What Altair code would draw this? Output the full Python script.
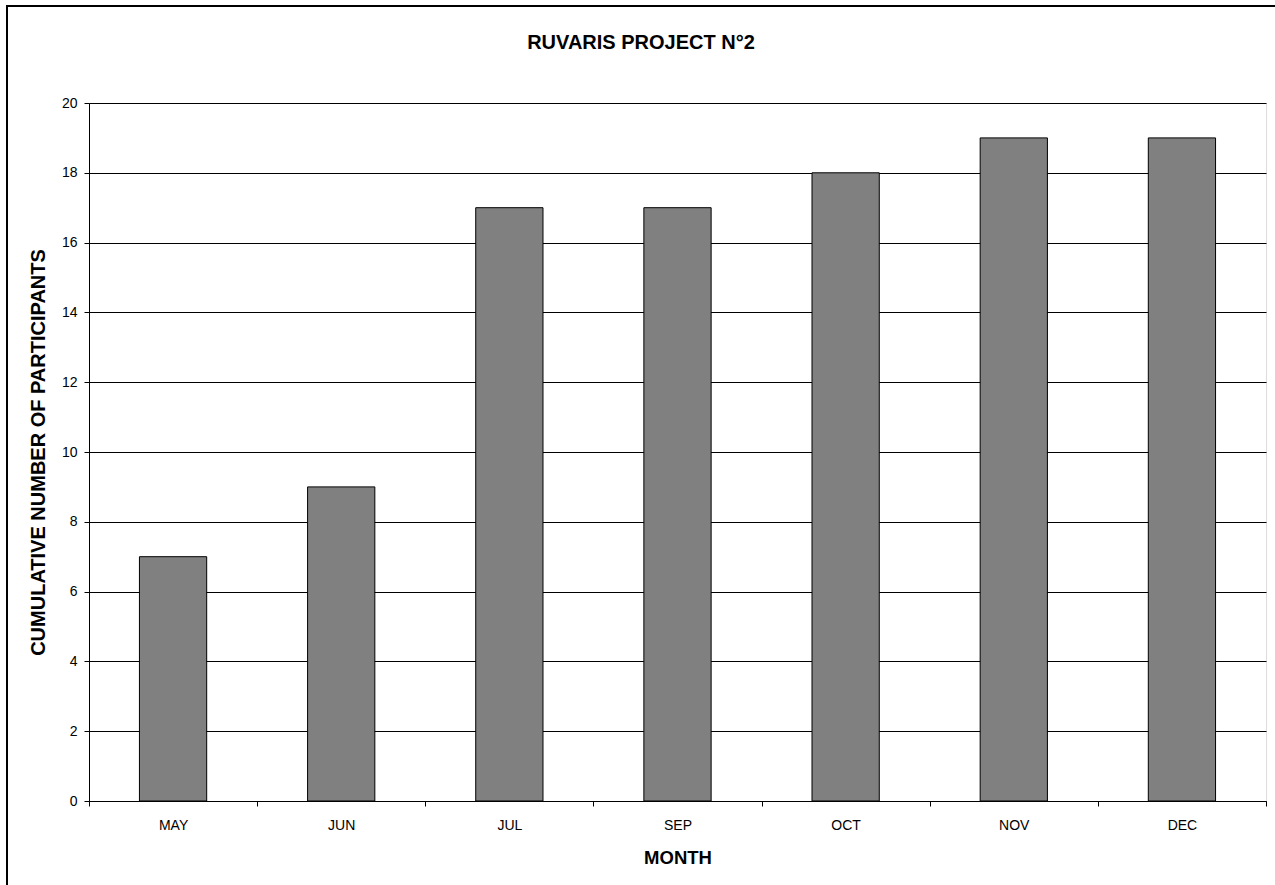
import altair as alt
import pandas as pd

months = ["MAY", "JUN", "JUL", "SEP", "OCT", "NOV", "DEC"]
participants = [7, 9, 17, 17, 18, 19, 19]
chart_title = "RUVARIS PROJECT N°2"

df = pd.DataFrame({"month": months, "value": participants})
FONT = "Liberation Sans"

bars = alt.Chart(df).mark_bar(
    color="#808080", stroke="black", strokeWidth=1,
    width=alt.RelativeBandSize(0.4)
).encode(
    x=alt.X("month:N", sort=months,
            scale=alt.Scale(paddingInner=0, paddingOuter=0),
            axis=alt.Axis(title="MONTH", labelAngle=0, tickBand="extent",
                          grid=False, domainColor="black", tickColor="black",
                          tickSize=5, labelPadding=12, labelFontSize=14,
                          labelColor="black", titleFontSize=18.5, titleFontWeight="bold",
                          titlePadding=16, titleColor="black",
                          labelFont=FONT, titleFont=FONT)),
    y=alt.Y("value:Q", scale=alt.Scale(domain=[0, 20], nice=False),
            axis=alt.Axis(title="CUMULATIVE NUMBER OF PARTICIPANTS",
                          values=list(range(0, 21, 2)), grid=True,
                          gridColor="black", gridOpacity=1, gridWidth=1,
                          domainColor="black", tickColor="black", tickSize=5,
                          labelPadding=7, labelFontSize=14, labelColor="black",
                          titleFontSize=20, titleFontWeight="bold",
                          titlePadding=13, titleColor="black",
                          labelFont=FONT, titleFont=FONT)),
)

one = pd.DataFrame({"t": [chart_title]})

frame = alt.Chart(one).mark_rect(
    fill=None, stroke="black", strokeWidth=2
).encode(
    x=alt.value(-82), x2=alt.value(1200),
    y=alt.value(-97), y2=alt.value(800),
)

title = alt.Chart(one).mark_text(
    font=FONT, fontSize=20, fontWeight="bold", color="black",
    align="center", baseline="middle"
).encode(
    text="t:N", x=alt.value(552), y=alt.value(-60),
)

chart = alt.layer(frame, bars, title).properties(
    width=1177, height=698,
    padding={"left": 89, "top": 103, "right": 9, "bottom": 84},
    autosize=alt.AutoSizeParams(type="none"),
).configure_view(stroke="#333333", strokeWidth=1).configure(background="white")

chart.save("out.html", embed_options={"renderer": "svg", "actions": False})
